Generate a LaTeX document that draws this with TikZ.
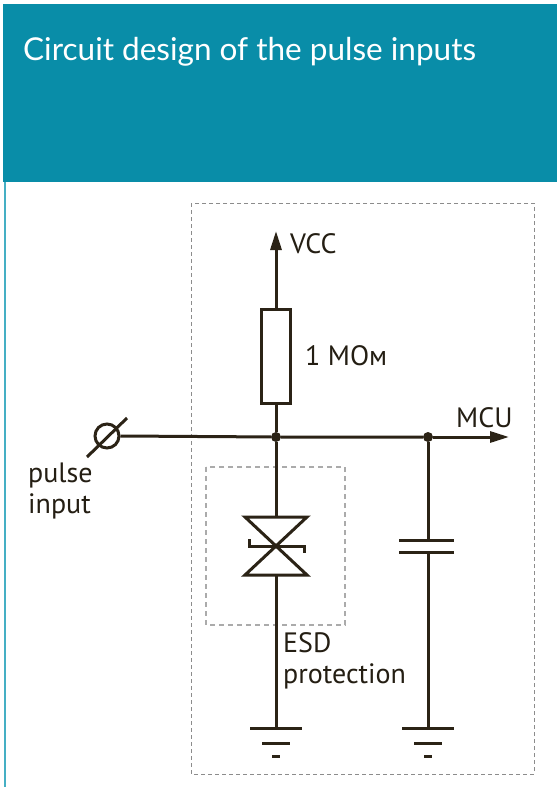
\documentclass[tikz,border=0pt]{standalone}
\usepackage{fontspec}
\setmainfont{PT Sans}
\newfontfamily\titlefont{Lato}
\usetikzlibrary{arrows.meta}

\definecolor{header}{HTML}{098DA8}
\definecolor{edgeline}{HTML}{45AFC4}
\definecolor{wire}{HTML}{2B2316}
\definecolor{frame}{HTML}{8C8C8C}
\definecolor{esdframe}{HTML}{ABABAB}

\tikzset{
  wireline/.style={draw=wire, line width=3pt},
  label/.style={inner sep=0pt, text=wire!85!black, font=\fontsize{28}{31}\selectfont},
  dot/.style={circle, fill=wire, inner sep=0pt, minimum size=10pt},
  earth/.pic={
    \draw[wireline] (-26,0) -- (26,0);
    \draw[wireline] (-14,15) -- (14,15);
    \draw[wireline] (-4,28) -- (4,28);
  }
}

\begin{document}
\begin{tikzpicture}[x=1pt,y=-1pt]
  \useasboundingbox (0,0) rectangle (557,787);
  \fill[white] (0,0) rectangle (557,787);

  % header
  \fill[header] (3,4) rectangle (557,182);
  \draw[edgeline, line width=2pt] (5,182) -- (5,787);
  \node[anchor=base west, inner sep=0pt, text=white,
        font=\titlefont\fontsize{31.5}{36}\selectfont] (title) at (23,60)
        {Circuit design of the pulse inputs};

  % frames
  \draw[frame, line width=1pt, dash pattern=on 4pt off 3pt] (191,203) rectangle (534,774);
  \draw[esdframe, line width=1.5pt, dash pattern=on 5pt off 4pt] (206,467) rectangle (345,625);

  % parts
  \begin{scope}[every node/.style={wireline}]
    \node[circle, minimum size=24pt, inner sep=0pt] (pin) at (107,436) {};
    \node[rectangle, minimum width=29pt, minimum height=94pt, inner sep=0pt] (res) at (276,356) {};
  \end{scope}

  \node[dot] (j1) at (276,437) {};
  \node[dot] (j2) at (428,437) {};
  \coordinate (vcc) at (276,231);
  \coordinate (mcu) at (509,437);
  \coordinate (dtop) at (276,517);
  \coordinate (dmid) at (276,546);
  \coordinate (dbot) at (276,575);
  \coordinate (ctop) at (428,540);
  \coordinate (cbot) at (428,552);
  \coordinate (g1) at (276,728);
  \coordinate (g2) at (428,728);

  % wires
  \draw[wireline] (87,457) -- (127,418);
  \draw[wireline] (pin.east) -- (j1) -- (j2);
  \draw[wireline, -{Triangle[length=19pt,width=11pt]}] (j2) -- (mcu);
  \draw[wireline, -{Triangle[length=19pt,width=11pt]}] (res.north) -- (vcc);
  \draw[wireline] (j1) -- (res.south);
  \draw[wireline] (j1) -- (dtop);
  \draw[wireline] (dbot) -- (g1);
  \draw[wireline] (j2) -- (ctop);
  \draw[wireline] (cbot) -- (g2);

  % TVS diode
  \draw[wireline, line join=miter] (245,517) -- (307,517) -- (dmid) -- cycle;
  \draw[wireline, line join=miter] (245,575) -- (307,575) -- (dmid) -- cycle;
  \draw[wireline] (249,539) -- (249,546) -- (304,546) -- (304,553);

  % capacitor
  \draw[wireline] (399,540) -- (454,540);
  \draw[wireline] (399,552) -- (454,552);

  % grounds
  \pic at (g1) {earth};
  \pic at (g2) {earth};

  % labels
  \begin{scope}[every node/.style={label, anchor=base west}]
    \node (vcclabel) at (290,253) {VCC};
    \node (reslabel) at (305,365) {1 MOм};
    \node (mculabel) at (456,427) {MCU};
    \node[align=left] (pinlabel) at (28,513) {pulse\\input};
    \node[align=left] (esdlabel) at (283,683) {ESD\\protection};
  \end{scope}
\end{tikzpicture}
\end{document}
